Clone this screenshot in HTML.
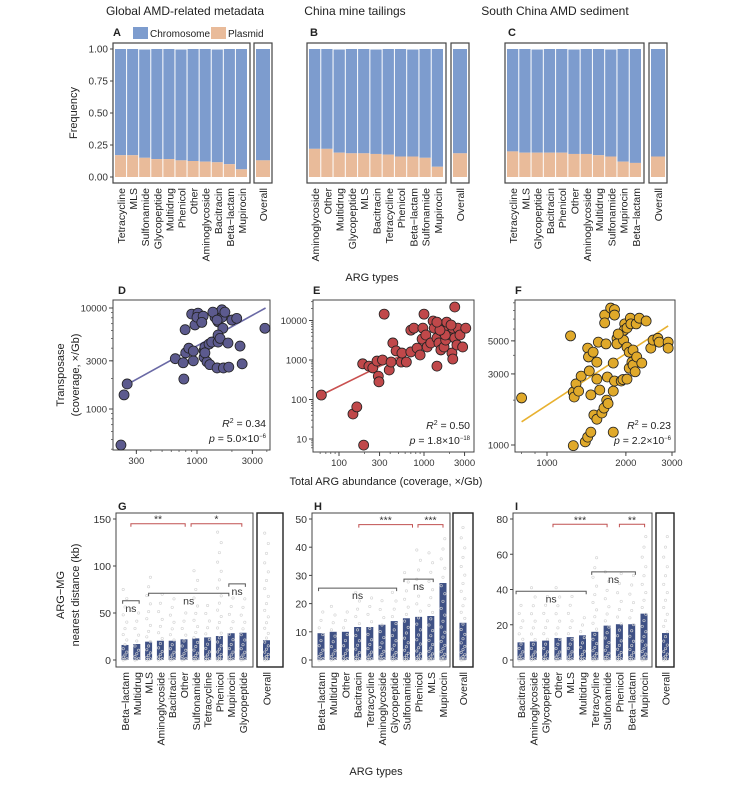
<!DOCTYPE html>
<html><head><meta charset="utf-8"><style>
html,body{margin:0;padding:0;background:#fff;}
svg{display:block;font-family:"Liberation Sans",Arial,sans-serif;}
</style></head><body>
<svg id="fig" width="729" height="785" viewBox="0 0 729 785" xmlns="http://www.w3.org/2000/svg"></svg>
<script>
// ---------- Row 1 data ----------
const catsA = ["Tetracycline","MLS","Sulfonamide","Glycopeptide","Multidrug","Phenicol","Other","Aminoglycoside","Bacitracin","Beta\u2212lactam","Mupirocin"];
const plasA = [0.17,0.17,0.15,0.14,0.14,0.13,0.125,0.12,0.115,0.10,0.06];
const overallA = 0.13;
const catsB = ["Aminoglycoside","Other","Multidrug","Glycopeptide","MLS","Bacitracin","Tetracycline","Phenicol","Beta\u2212lactam","Sulfonamide","Mupirocin"];
const plasB = [0.22,0.22,0.19,0.185,0.185,0.18,0.175,0.16,0.16,0.15,0.08];
const overallB = 0.185;
const catsC = ["Tetracycline","MLS","Glycopeptide","Bacitracin","Phenicol","Other","Aminoglycoside","Multidrug","Sulfonamide","Mupirocin","Beta\u2212lactam"];
const plasC = [0.20,0.19,0.19,0.19,0.19,0.18,0.18,0.17,0.16,0.12,0.11];
const overallC = 0.16;
const freqTicks = [0,0.25,0.5,0.75,1.0];
const freqTickLabels = ["0.00","0.25","0.50","0.75","1.00"];

// ---------- Row 2 data ----------
const dX = [221,235,250,650,760,770,790,800,850,930,930,900,960,1020,1000,1130,1100,1150,1150,1170,1220,1270,1290,1340,1430,1490,1520,1520,1580,1640,1640,1670,1520,1580,1690,1850,1880,2000,2200,2350,2450,3850,1740,1370,1490,1170];
const dY = [440,1380,1770,3150,2870,1980,6100,3600,4000,3000,3750,8700,6800,8900,8100,8300,7200,3250,3800,4100,2930,4400,2750,4600,8100,2550,4600,7300,9100,8100,9600,6300,5400,5000,2550,4500,2600,7600,7900,4200,2800,6300,9100,9100,7600,3600];
const dLine = [[250,1750],[3900,10000]];
const eX = [62,146,162,195,190,225,250,280,290,295,325,340,390,410,430,470,540,550,620,700,700,760,830,900,950,1000,970,1050,1090,1200,1280,1320,1420,1420,1500,1580,1620,1680,1720,1800,1920,2040,2130,2180,2180,2300,2300,2440,2500,2650,2850,3100,1850,1780,1540,2080,1420];
const eY = [130,43,65,7,800,700,630,940,390,280,1000,14500,560,890,2700,1700,890,1500,890,1600,5700,6400,2000,1340,3400,14500,6400,4300,2140,2700,9700,6400,700,3600,2700,1800,7700,5100,2140,3200,6400,4300,1500,1060,6400,22000,3600,2400,6400,4300,2140,6400,9100,4300,5700,7700,9100];
const eLine = [[62,130],[2900,7700]];
const fX = [800,1230,1260,1260,1270,1290,1320,1350,1400,1430,1470,1450,1470,1430,1440,1500,1550,1510,1550,1550,1590,1570,1620,1650,1690,1710,1700,1680,1660,1660,1750,1810,1810,1790,1790,1810,1850,1850,1790,1920,1960,1950,1980,1970,2020,2020,2020,2060,2080,2090,2060,2110,2130,2130,2170,2200,2190,2250,2300,2390,2490,2540,2650,2680,2900,2900,1870];
const fY = [2070,5400,990,2270,2100,2570,2300,2900,1050,1130,1220,3140,2170,4470,3900,4200,3600,1590,1490,2770,2340,4900,1640,1770,2000,1900,2860,4770,7450,6600,8300,8100,7450,3550,2300,2690,5200,4770,1220,2690,5060,2750,6500,5900,2770,6100,4540,4200,7100,6500,3280,3600,4340,3440,3100,3900,6500,7100,3550,6800,4470,5060,5200,4900,4900,4470,5560];
const fLine = [[800,1430],[2900,6300]];

// ---------- Row 3 data ----------
const catsG = ["Beta\u2212lactam","Multidrug","MLS","Aminoglycoside","Bacitracin","Other","Sulfonamide","Tetracycline","Phenicol","Mupirocin","Glycopeptide"];
const meanG = [16,17,19.5,20.5,20.5,22,23,24,25.5,28.5,29];
const maxG = [75,50,88,70,65,50,95,58,136,66,65];
const overallG = 21; const overallMaxG = 135;
const catsH = ["Beta\u2212lactam","Multidrug","Other","Bacitracin","Tetracycline","Aminoglycoside","Glycopeptide","Sulfonamide","Phenicol","MLS","Mupirocin"];
const meanH = [9.5,10,10,11.7,11.7,12.5,13.8,14.8,15.3,15.6,27.3];
const maxH = [17,19,17,24,22,21,24,31,39,38,43];
const overallH = 13.2; const overallMaxH = 47;
const catsI = ["Bacitracin","Aminoglycoside","Glycopeptide","Other","MLS","Multidrug","Tetracycline","Sulfonamide","Phenicol","Beta\u2212lactam","Mupirocin"];
const meanI = [10,10.5,11,12.5,13,14,16,19.5,20.3,20.3,26.3];
const maxI = [31,41,36,41,36,24,58,50,49,48,70];
const overallI = 15.3; const overallMaxI = 70;

const svg = document.getElementById('fig');
const NS = "http://www.w3.org/2000/svg";
function el(tag, attrs, parent, txt){
  const e = document.createElementNS(NS, tag);
  for (const k in attrs) e.setAttribute(k, attrs[k]);
  if (txt !== undefined) e.textContent = txt;
  (parent||svg).appendChild(e);
  return e;
}
function txt(x,y,s,size,anchor,name,extra){
  const t = el('text',Object.assign({x:x,y:y,'font-size':size,'text-anchor':anchor||'start',fill:'#222'},extra||{}),svg,s);
  
  
  return t;
}
function rtxt(x,y,s,size,name,anchor){
  const t = el('text',{transform:`translate(${x},${y}) rotate(-90)`,'font-size':size,'text-anchor':anchor||'end',fill:'#222'},svg,s);
  
  
  return t;
}
function rect(x,y,w,h,attrs,name){
  const r = el('rect',Object.assign({x:x,y:y,width:w,height:h},attrs));
  
  
  return r;
}
function line(x1,y1,x2,y2,stroke,w,name){
  const l = el('line',{x1:x1,y1:y1,x2:x2,y2:y2,stroke:stroke,'stroke-width':w||1});
  
  
  return l;
}

// ================= Row 1 =================
txt(185,15,"Global AMD-related metadata",12,'middle','title-a');
txt(355,15,"China mine tailings",12,'middle','title-b');
txt(555,15,"South China AMD sediment",12,'middle','title-c');
txt(113,36,"A",11,'start','panel-label-a',{'font-weight':'bold'});
txt(310,36,"B",11,'start','panel-label-b',{'font-weight':'bold'});
txt(508,36,"C",11,'start','panel-label-c',{'font-weight':'bold'});
rect(133,27,15,12,{fill:'#7d9cce'},'legend-swatch-chromosome');
txt(150,37,"Chromosome",10,'start','legend-label-chromosome');
rect(211,27,15,12,{fill:'#e9bb9a'},'legend-swatch-plasmid');
txt(228,37,"Plasmid",10,'start','legend-label-plasmid');
rtxt(77,113,"Frequency",11,'y-axis-title-frequency','middle');
txt(372,281,"ARG types",11,'middle','x-axis-title-row1');

const fy = v => 177 - v*128;
function stackPanel(x0,x1,ox0,ox1,cats,plas,overall,key,showY){
  rect(x0,43,x1-x0,140,{fill:'none',stroke:'#444','stroke-width':1.2},'panel-frame-'+key);
  rect(ox0,43,ox1-ox0,140,{fill:'none',stroke:'#444','stroke-width':1.2},'overall-frame-'+key);
  const slot = (x1-x0-4)/cats.length;
  cats.forEach((c,i)=>{
    const bx = x0+2+i*slot;
    const total = 1 - (i%3===2?0.004:0);
    rect(bx,fy(total),slot-1,fy(plas[i])-fy(total),{fill:'#7d9cce'},'bar-chromosome-'+key+'-'+i);
    rect(bx,fy(plas[i]),slot-1,fy(0)-fy(plas[i]),{fill:'#e9bb9a'},'bar-plasmid-'+key+'-'+i);
    rtxt(bx+slot/2+4,188,c,10.5,'x-label-'+key+'-'+i);
  });
  const ow = ox1-ox0-4;
  rect(ox0+2,fy(1),ow,fy(overall)-fy(1),{fill:'#7d9cce'},'bar-chromosome-overall-'+key);
  rect(ox0+2,fy(overall),ow,fy(0)-fy(overall),{fill:'#e9bb9a'},'bar-plasmid-overall-'+key);
  rtxt((ox0+ox1)/2+4,188,"Overall",10.5,'x-label-overall-'+key);
  if(showY){
    freqTicks.forEach((t,i)=>{
      line(x0-3,fy(t),x0,fy(t),'#444',1,'y-tick-'+key+'-'+i);
      txt(x0-5,fy(t)+3.5,freqTickLabels[i],10,'end','y-tick-label-'+key+'-'+i,{fill:'#333'});
    });
  }
}
stackPanel(113,250,254,272,catsA,plasA,overallA,'a',true);
stackPanel(307,446,451,469,catsB,plasB,overallB,'b',false);
stackPanel(505,644,649,667,catsC,plasC,overallC,'c',false);

// ================= Row 2 =================
txt(386,485,"Total ARG abundance (coverage, \u00d7/Gb)",11,'middle','x-axis-title-row2');
rtxt(64,375,"Transposase",11,'y-axis-title-line1','middle');
rtxt(79,375,"(coverage, \u00d7/Gb)",11,'y-axis-title-line2','middle');
const L = Math.log10;
function scatter(cfg){
  const {key,left,right,top,bottom,xs,ys,xTicks,yTicks,xMinor,yMinor,X,Y,fill,lineColor,fit,r2,p,pexp,label,labelX} = cfg;
  txt(labelX,294,label,11,'start','panel-label-'+key,{'font-weight':'bold'});
  rect(left,top,right-left,bottom-top,{fill:'none',stroke:'#444','stroke-width':1},'plot-frame-'+key);
  xMinor.forEach((v,i)=>line(X(v),bottom,X(v),bottom+2,'#555',0.8,'x-minor-tick-'+key+'-'+i));
  yMinor.forEach((v,i)=>line(left-2,Y(v),left,Y(v),'#555',0.8,'y-minor-tick-'+key+'-'+i));
  xTicks.forEach((v,i)=>{
    line(X(v),bottom,X(v),bottom+4,'#444',1,'x-tick-'+key+'-'+i);
    txt(X(v),bottom+14,String(v),9.5,'middle','x-tick-label-'+key+'-'+i,{fill:'#333'});
  });
  yTicks.forEach((v,i)=>{
    line(left-4,Y(v),left,Y(v),'#444',1,'y-tick-'+key+'-'+i);
    txt(left-6,Y(v)+3.5,String(v),9.5,'end','y-tick-label-'+key+'-'+i,{fill:'#333'});
  });
  line(X(fit[0][0]),Y(fit[0][1]),X(fit[1][0]),Y(fit[1][1]),lineColor,1.6,'regression-line-'+key);
  xs.forEach((v,i)=>{
    const c = el('circle',{cx:X(v),cy:Y(ys[i]),r:5,fill:fill,stroke:'#222','stroke-width':0.8});
    
    
  });
  const t1 = txt(right-4,bottom-23,"",10.5,'end','r-squared-'+key);
  el('tspan',{'font-style':'italic'},t1,"R");
  el('tspan',{'font-size':7,dy:-4},t1,"2");
  el('tspan',{dy:4},t1," = "+r2);
  const t2 = txt(right-4,bottom-8,"",10.5,'end','p-value-'+key);
  el('tspan',{'font-style':'italic'},t2,"p");
  el('tspan',{},t2," = "+p+"\u00d710");
  el('tspan',{'font-size':6,dy:-4},t2,pexp);
}
function minors(lo,hi){const a=[];for(let d=1;d<=10000;d*=10)for(let m=1;m<10;m++){const v=m*d;if(v>=lo&&v<=hi)a.push(v);}return a;}
scatter({key:'d',left:113,right:270,top:300,bottom:450,xs:dX,ys:dY,xTicks:[300,1000,3000],yTicks:[1000,3000,10000],
  xMinor:minors(210,4000),yMinor:minors(400,11000),
  X:v=>197+(L(v)-3)*116,Y:v=>409-(L(v)-3)*101,fill:'#5c5a8e',lineColor:'#6a69a5',fit:dLine,r2:"0.34",p:"5.0",pexp:"\u22126",label:'D',labelX:118});
scatter({key:'e',left:313,right:474,top:300,bottom:452,xs:eX,ys:eY,xTicks:[100,300,1000,3000],yTicks:[10,100,1000,10000],
  xMinor:minors(55,3200),yMinor:minors(6,30000),
  X:v=>424+(L(v)-3)*85,Y:v=>360-(L(v)-3)*39.5,fill:'#c0484a',lineColor:'#c9504f',fit:eLine,r2:"0.50",p:"1.8",pexp:"\u221218",label:'E',labelX:313});
scatter({key:'f',left:515,right:675,top:300,bottom:452,xs:fX,ys:fY,xTicks:[1000,2000,3000],yTicks:[1000,3000,5000],
  xMinor:minors(760,3000),yMinor:minors(960,9500),
  X:v=>547+(L(v)-3)*262,Y:v=>445-(L(v)-3)*149,fill:'#e0a92a',lineColor:'#e8b130',fit:fLine,r2:"0.23",p:"2.2",pexp:"\u22126",label:'F',labelX:515});

// ================= Row 3 =================
rtxt(64,595,"ARG\u2212MG",11,'y-axis-title-row3-line1','middle');
rtxt(79,595,"nearest distance (kb)",11,'y-axis-title-row3-line2','middle');
txt(376,775,"ARG types",11,'middle','x-axis-title-row3');
function distPanel(cfg){
  const {key,left,right,ox0,ox1,cats,means,maxes,overall,overallMax,ymax,ticks,c0,c1,obx,brackets,label} = cfg;
  const Y = v => 660 - v/ymax*141;
  const step = (c1-c0)/(cats.length-1);
  const X = i => c0 + i*step;
  txt(left+2,510,label,11,'start','panel-label-'+key,{'font-weight':'bold'});
  rect(left,513,right-left,154,{fill:'none',stroke:'#444','stroke-width':1},'plot-frame-'+key);
  rect(ox0,513,ox1-ox0,154,{fill:'none',stroke:'#222','stroke-width':1.4},'overall-frame-'+key);
  ticks.forEach((v,i)=>{
    line(left-3,Y(v),left,Y(v),'#444',1,'y-tick-'+key+'-'+i);
    txt(left-5,Y(v)+4,String(v),10.5,'end','y-tick-label-'+key+'-'+i,{fill:'#333'});
  });
  function bar(cx,m,mx,name){
    rect(cx-3.5,Y(m),7,Y(0)-Y(m),{fill:'#3f5185'},name);
    const n = Math.round(mx/ymax*22)+5;
    for(let k=0;k<n;k++){
      const f = k/(n-1);
      const v = mx*f*f;
      const c = el('circle',{cx:cx+((k%3)-1)*1.8,cy:Y(v),r:1.2,fill:'none',stroke:'#d2d2d2','stroke-width':0.6});
      
      
    }
  }
  cats.forEach((c,i)=>{
    bar(X(i),means[i],maxes[i],'bar-'+key+'-'+i);
    rtxt(X(i)+4,672,c,10.5,'x-label-'+key+'-'+i);
  });
  bar(obx,overall,overallMax,'bar-overall-'+key);
  rtxt(obx+4,672,"Overall",10.5,'x-label-overall-'+key);
  brackets.forEach((b,j)=>{
    const [a,z,v,lab,col] = b;
    const y = Y(v), xa = X(a), xz = X(z);
    const pth = el('path',{d:`M${xa},${y+3}V${y}H${xz}V${y+3}`,fill:'none',stroke:col,'stroke-width':1});
    
    
    if(lab==='ns') txt((xa+xz)/2,y+11,lab,10.5,'middle','significance-label-'+key+'-'+j,{fill:'#333'});
    else txt((xa+xz)/2,y-1,lab,10.5,'middle','significance-label-'+key+'-'+j,{fill:'#333'});
  });
}
const GREY='#555', RED='#c05050';
distPanel({key:'g',label:'G',left:116,right:253,ox0:257,ox1:283,cats:catsG,means:meanG,maxes:maxG,overall:overallG,overallMax:overallMaxG,
  ymax:150,ticks:[0,50,100,150],c0:125,c1:243,obx:266.5,
  brackets:[[-0.2,1.2,63,'ns',GREY],[2,8.8,71,'ns',GREY],[8.8,10.2,81,'ns',GREY],[0.5,5.1,145,'**',RED],[5.6,9.9,145,'*',RED]]});
distPanel({key:'h',label:'H',left:312,right:450,ox0:453,ox1:473,cats:catsH,means:meanH,maxes:maxH,overall:overallH,overallMax:overallMaxH,
  ymax:50,ticks:[0,10,20,30,40,50],c0:321,c1:443,obx:463,
  brackets:[[-0.2,6.2,25.5,'ns',GREY],[6.8,9.2,28.7,'ns',GREY],[3.1,7.5,48,'***',RED],[7.95,10,48,'***',RED]]});
distPanel({key:'i',label:'I',left:513,right:652,ox0:656,ox1:674,cats:catsI,means:meanI,maxes:maxI,overall:overallI,overallMax:overallMaxI,
  ymax:80,ticks:[0,20,40,60,80],c0:521,c1:644,obx:665.5,
  brackets:[[-0.4,5.3,39,'ns',GREY],[5.75,9.3,50,'ns',GREY],[2.6,7,77,'***',RED],[8,10.05,77,'**',RED]]});
</script>
</body></html>
